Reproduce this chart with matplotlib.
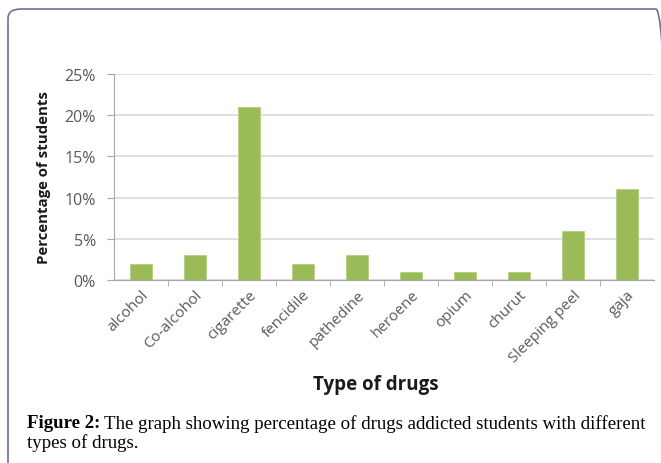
import matplotlib.pyplot as plt
from matplotlib.patches import FancyBboxPatch
from matplotlib.ticker import FuncFormatter, FixedLocator

drugs = ['alcohol', 'Co-alcohol', 'cigarette', 'fencidile', 'pathedine',
         'heroene', 'opium', 'churut', 'Sleeping peel', 'gaja']
percent = [2, 3, 21, 2, 3, 1, 1, 1, 6, 11]
y_ticks = [0, 5, 10, 15, 20, 25]

bar_color = '#9BBB59'
text_gray = '#595959'
grid_gray = '#D9D9D9'

fig = plt.figure(figsize=(6.61, 4.64), dpi=100)

# panel border (rounded, runs off right and bottom)
border = FancyBboxPatch((8 / 661, -0.05), 1.0, 1.05 - 10 / 464,
                        boxstyle='round,pad=0,rounding_size=0.02',
                        transform=fig.transFigure, fill=False,
                        edgecolor='#6E6E9E', linewidth=1.2)
fig.patches.append(border)

ax = fig.add_axes([114 / 661, 1 - 281 / 464, 540 / 661, 206 / 464])
x = list(range(len(drugs)))
ax.bar(x, percent, width=0.39, color=bar_color, edgecolor='#B5CF82', linewidth=0.6, zorder=3)

ax.set_xlim(-0.5, len(drugs) - 0.5)
ax.set_ylim(0, 25)
ax.set_yticks(y_ticks)
ax.yaxis.set_major_formatter(FuncFormatter(lambda v, p: f'{v:.0f}%'))
ax.yaxis.grid(True, color=grid_gray, linewidth=1.2, zorder=0)
ax.set_axisbelow(True)

ax.set_xticks(x)
ax.set_xticklabels(drugs, rotation=45, ha='right', rotation_mode='anchor',
                   fontsize=11, color=text_gray, family='Open Sans')
ax.tick_params(axis='x', length=0, pad=5)
ax.xaxis.set_minor_locator(FixedLocator([i + 0.5 for i in range(len(drugs) - 1)]))
ax.tick_params(axis='x', which='minor', length=4, color='#A6A6A6', direction='out')
ax.tick_params(axis='y', length=5, color='#A6A6A6', labelsize=11.5, labelcolor=text_gray, pad=8)
for lab in ax.get_yticklabels():
    lab.set_family('Open Sans')

for side in ['top', 'right']:
    ax.spines[side].set_visible(False)
ax.spines['left'].set_color('#A6A6A6')
ax.spines['bottom'].set_color('#A6A6A6')

fig.text(44 / 661, 1 - 177 / 464, 'Percentage of students', rotation=90,
         ha='center', va='center', fontsize=10.8, fontweight='bold',
         family='Open Sans', color='#1A1A1A')
fig.text(376 / 661, 1 - 385 / 464, 'Type of drugs', ha='center', va='center',
         fontsize=13.5, fontweight='bold', family='Open Sans', color='#1A1A1A')

# caption
cap_y1 = 1 - 424 / 464
cap_y2 = 1 - 443 / 464
cap_size = 13.6
t = fig.text(27 / 661, cap_y1, 'Figure 2:', ha='left', va='center', fontsize=cap_size,
             fontweight='bold', family='Liberation Serif', color='black')
fig.canvas.draw()
bb = t.get_window_extent()
fig.text((bb.x1 + 4) / 661, cap_y1,
         'The graph showing percentage of drugs addicted students with different',
         ha='left', va='center', fontsize=cap_size, family='Liberation Serif', color='black')
fig.text(27 / 661, cap_y2, 'types of drugs.', ha='left', va='center', fontsize=cap_size,
         family='Liberation Serif', color='black')

fig.savefig('out.png', dpi=100)
